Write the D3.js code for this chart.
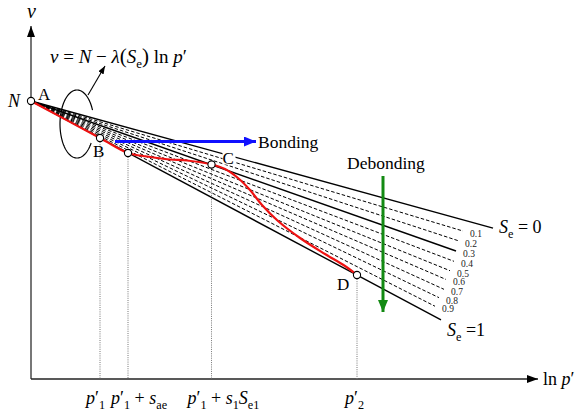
<!DOCTYPE html>
<html>
<head>
<meta charset="utf-8">
<script src="https://cdn.jsdelivr.net/npm/d3@7"></script>
<style>
  html, body { margin: 0; padding: 0; background: #fff; }
  svg { display: block; font-family: "Liberation Serif", "Times New Roman", serif; }
</style>
</head>
<body>
<svg id="chart" width="580" height="413"></svg>
<script>
// Void ratio ν at the origin of the compression lines
const nValue = 5.56;
// Degree of saturation of each compression line and its slope λ(Se)
const seLevels = [0, 0.1, 0.2, 0.3, 0.4, 0.5, 0.6, 0.7, 0.8, 0.9, 1];
const lambdaValues = [0.275, 0.301, 0.327, 0.353, 0.379, 0.405, 0.430, 0.456, 0.482, 0.508, 0.534];
// ln p' where each compression line stops
const lineEnds = [9.24, 8.64, 8.54, 8.50, 8.46, 8.38, 8.30, 8.26, 8.16, 8.08, 8.20];
// Line styles: solid for Se = 0, Se1 = 0.3 and Se = 1
const solidLevels = [0, 0.3, 1];

// Stress path A-B-(p1'+sae)-C-D
const pathX = [0, 1.38, 1.94, 2.32, 2.78, 3.12, 3.61, 3.88, 4.14, 4.38, 4.62, 4.94, 5.38, 5.88, 6.28, 6.52];
const pathV = [5.56, 4.82, 4.52, 4.45, 4.39, 4.37, 4.29, 4.20, 4.02, 3.78, 3.48, 3.16, 2.82, 2.50, 2.26, 2.08];
// Marked points on the path (index into the path arrays) and their names
const markIdx = [0, 1, 2, 6, 15];
const markNames = ["A", "B", "", "C", "D"];

// Ticks on the ln p' axis
const tickValues = [1.38, 1.94, 3.61, 6.52];

const svg = d3.select("#chart");
const x = d3.scaleLinear().domain([0, 10]).range([31, 531]);
const y = d3.scaleLinear().domain([0, 7]).range([379, 29]);

// Arrow markers
const defs = svg.append("defs");
function marker(id, color, w, h) {
  defs.append("marker").attr("id", id)
    .attr("viewBox", `0 0 ${w} ${h}`).attr("refX", w).attr("refY", h / 2)
    .attr("markerWidth", w).attr("markerHeight", h)
    .attr("markerUnits", "userSpaceOnUse").attr("orient", "auto")
    .append("path").attr("d", `M0,0L${w},${h / 2}L0,${h}Z`).attr("fill", color);
}
marker("arrK", "#000", 11, 8);
marker("arrS", "#000", 8, 6);
marker("arrB", "#1010ff", 12, 10);
marker("arrG", "#138a13", 12, 10);

// Axes
svg.append("line").attr("x1", x(0)).attr("y1", y(0)).attr("x2", x(0)).attr("y2", 26)
  .attr("stroke", "#555").attr("stroke-width", 1.6).attr("marker-end", "url(#arrK)");
svg.append("line").attr("x1", x(0)).attr("y1", y(0)).attr("x2", 538).attr("y2", y(0))
  .attr("stroke", "#222").attr("stroke-width", 1.4).attr("marker-end", "url(#arrK)");

// Dotted projections down to the ln p' axis
const projIdx = [1, 2, 6, 15];
svg.append("g").selectAll("line").data(projIdx).join("line")
  .attr("x1", i => x(pathX[i])).attr("x2", i => x(pathX[i]))
  .attr("y1", i => y(pathV[i]) + 4).attr("y2", y(0))
  .attr("stroke", "#777").attr("stroke-width", 1).attr("stroke-dasharray", "1,1.2");

// Ellipse around the fan of lines, open where the lines pass through
const ecx = 77, ecy = 124, erx = 17, ery = 34;
const arcPts = d3.range(34, 337, 2).map(t => {
  const a = t * Math.PI / 180;
  return [ecx + erx * Math.cos(a), ecy + ery * Math.sin(a)];
});
svg.append("path").attr("d", d3.line()(arcPts)).attr("fill", "none")
  .attr("stroke", "#000").attr("stroke-width", 1.2);
svg.append("line").attr("x1", 88).attr("y1", 95).attr("x2", 105).attr("y2", 66)
  .attr("stroke", "#000").attr("stroke-width", 1.1).attr("marker-end", "url(#arrS)");

// Compression lines ν = N − λ(Se) ln p'
const lineGen = d3.line().x(d => x(d[0])).y(d => y(d[1]));
svg.append("g").selectAll("path").data(seLevels).join("path")
  .attr("d", (s, i) => lineGen([[0, nValue], [lineEnds[i], nValue - lambdaValues[i] * lineEnds[i]]]))
  .attr("fill", "none").attr("stroke", "#000")
  .attr("stroke-width", s => solidLevels.includes(s) ? 1.4 : 1)
  .attr("stroke-dasharray", s => solidLevels.includes(s) ? null : "3.5,2");

// Se labels at the ends of the intermediate lines
svg.append("g").selectAll("text").data(seLevels.slice(1, 10)).join("text")
  .attr("x", (s, k) => x(lineEnds[k + 1]) + 7)
  .attr("y", (s, k) => y(nValue - lambdaValues[k + 1] * lineEnds[k + 1]) + 6)
  .attr("font-size", 9.5).attr("fill", "#222").text(s => s.toFixed(1));

// Blank patch behind label C
svg.append("rect").attr("x", x(pathX[6]) + 11).attr("y", y(pathV[6]) - 14)
  .attr("width", 13).attr("height", 14).attr("fill", "#fff");

// Stress path
svg.append("path")
  .attr("d", d3.line().x(d => x(d[0])).y(d => y(d[1])).curve(d3.curveCatmullRom.alpha(0.5))(pathX.map((v, i) => [v, pathV[i]])))
  .attr("fill", "none").attr("stroke", "#ee1111").attr("stroke-width", 2.2);

// Marked points
svg.append("g").selectAll("circle").data(markIdx).join("circle")
  .attr("cx", i => x(pathX[i])).attr("cy", i => y(pathV[i])).attr("r", 3.6)
  .attr("fill", "#fff").attr("stroke", "#000").attr("stroke-width", 1.1);

// Point names
const nameOffsets = [[7, -1], [-7, 19], [0, 0], [11, -1], [-20, 15]];
svg.append("g").selectAll("text").data(markIdx).join("text")
  .attr("x", (i, k) => x(pathX[i]) + nameOffsets[k][0])
  .attr("y", (i, k) => y(pathV[i]) + nameOffsets[k][1])
  .attr("font-size", 17).text((i, k) => markNames[k]);

// Bonding / debonding arrows
svg.append("line").attr("x1", x(1.68)).attr("x2", x(4.5)).attr("y1", y(4.75)).attr("y2", y(4.75))
  .attr("stroke", "#1010ff").attr("stroke-width", 3).attr("marker-end", "url(#arrB)");
svg.append("text").attr("x", 258).attr("y", 148).attr("font-size", 17.5).text("Bonding");
svg.append("line").attr("x1", x(7.04)).attr("x2", x(7.04)).attr("y1", y(4.06)).attr("y2", y(1.34))
  .attr("stroke", "#138a13").attr("stroke-width", 3).attr("marker-end", "url(#arrG)");
svg.append("text").attr("x", 347).attr("y", 169).attr("font-size", 17.5).text("Debonding");

// Helper to write mixed italic / subscript math text
function mathText(xp, yp, size, parts) {
  const t = svg.append("text").attr("x", xp).attr("y", yp).attr("font-size", size);
  let shift = 0;
  parts.forEach(p => {
    const ts = t.append("tspan").text(p.t);
    if (p.i) ts.attr("font-style", "italic");
    const target = p.sub ? 5 : 0;
    if (target !== shift) { ts.attr("dy", target - shift); shift = target; }
    if (p.sub) ts.attr("font-size", size * 0.68);
    if (p.s) ts.attr("font-size", p.s);
  });
  return t;
}

// Formula of the compression lines
mathText(50, 63, 19, [
  { t: "ν", i: 1 }, { t: " = " }, { t: "N", i: 1 }, { t: " − " }, { t: "λ", i: 1 },
  { t: "(", s: 21 }, { t: "S", i: 1 }, { t: "e", sub: 1 }, { t: ")", s: 21 }, { t: " ln " },
  { t: "p", i: 1 }, { t: "′" }
]);

// Axis titles and N
mathText(27, 18, 20, [{ t: "ν", i: 1 }]);
mathText(543, 385, 18, [{ t: "ln " }, { t: "p", i: 1 }, { t: "′" }]);
mathText(8, 107, 18, [{ t: "N", i: 1 }]);

// Se = 0 and Se = 1 labels
mathText(x(lineEnds[0]) + 6, y(nValue - lambdaValues[0] * lineEnds[0]) + 5, 18,
  [{ t: "S", i: 1 }, { t: "e", sub: 1 }, { t: " = 0" }]);
mathText(x(lineEnds[10]) + 6, y(nValue - lambdaValues[10] * lineEnds[10]) + 16, 18,
  [{ t: "S", i: 1 }, { t: "e", sub: 1 }, { t: " =1" }]);

// ln p' tick labels
const tickParts = [
  [{ t: "p", i: 1 }, { t: "′" }, { t: "1", sub: 1 }],
  [{ t: "p", i: 1 }, { t: "′" }, { t: "1", sub: 1 }, { t: " + " }, { t: "s", i: 1 }, { t: "ae", sub: 1 }],
  [{ t: "p", i: 1 }, { t: "′" }, { t: "1", sub: 1 }, { t: " + " }, { t: "s", i: 1 }, { t: "1", sub: 1 }, { t: "S", i: 1 }, { t: "e1", sub: 1 }],
  [{ t: "p", i: 1 }, { t: "′" }, { t: "2", sub: 1 }]
];
const tickDx = [-14, -17, -24, -12];
tickValues.forEach((v, k) => mathText(x(v) + tickDx[k], 404, 18, tickParts[k]));
</script>
</body>
</html>
